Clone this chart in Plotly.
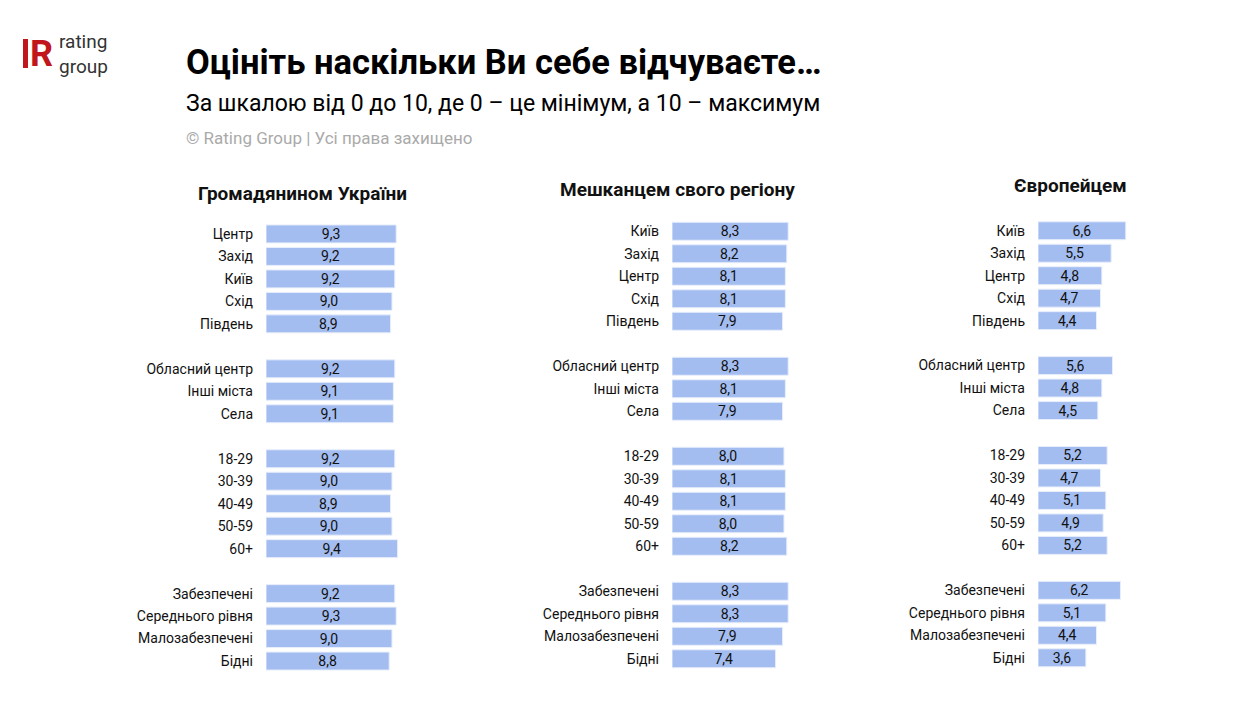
import plotly.graph_objects as go

# categories (empty string = gap between groups)
categories = ["Центр", "Захід", "Київ", "Схід", "Південь", "",
              "Обласний центр", "Інші міста", "Села", "",
              "18-29", "30-39", "40-49", "50-59", "60+", "",
              "Забезпечені", "Середнього рівня", "Малозабезпечені", "Бідні"]
cats_p2 = ["Київ", "Захід", "Центр", "Схід", "Південь", "",
           "Обласний центр", "Інші міста", "Села", "",
           "18-29", "30-39", "40-49", "50-59", "60+", "",
           "Забезпечені", "Середнього рівня", "Малозабезпечені", "Бідні"]
cats_p3 = ["Київ", "Захід", "Центр", "Схід", "Південь", "",
           "Обласний центр", "Інші міста", "Села", "",
           "18-29", "30-39", "40-49", "50-59", "60+", "",
           "Забезпечені", "Середнього рівня", "Малозабезпечені", "Бідні"]

citizen = [9.3, 9.2, 9.2, 9.0, 8.9, None, 9.2, 9.1, 9.1, None,
           9.2, 9.0, 8.9, 9.0, 9.4, None, 9.2, 9.3, 9.0, 8.8]
region = [8.3, 8.2, 8.1, 8.1, 7.9, None, 8.3, 8.1, 7.9, None,
          8.0, 8.1, 8.1, 8.0, 8.2, None, 8.3, 8.3, 7.9, 7.4]
european = [6.6, 5.5, 4.8, 4.7, 4.4, None, 5.6, 4.8, 4.5, None,
            5.2, 4.7, 5.1, 4.9, 5.2, None, 6.2, 5.1, 4.4, 3.6]

panel_titles = ["Громадянином України", "Мешканцем свого регіону", "Європейцем"]

W, H, OFF = 1227, 715, 8  # page has an 8px body margin


def px(x):
    return (x - OFF) / W


def py(y):
    return 1 - (y - OFF) / H


panels = [(categories, citizen), (cats_p2, region), (cats_p3, european)]
x_pix = [(266, 406), (672, 812), (1038, 1171)]
y_pix = [(222.7, 672.3), (220, 670), (219.5, 669)]
title_pos = [(302, 193), (677, 189), (1070, 186)]

BAR = "#a3bdf0"
FONT = "Roboto, sans-serif"

fig = go.Figure()
for i, (cats, vals) in enumerate(panels):
    n = "" if i == 0 else str(i + 1)
    pos = list(range(len(cats)))
    ys = [p for p, v in zip(pos, vals) if v is not None]
    xs = [v for v in vals if v is not None]
    fig.add_trace(go.Bar(
        x=xs, y=ys, orientation="h", xaxis="x" + n, yaxis="y" + n,
        marker=dict(color=BAR, line=dict(color="#e8eefb", width=1)),
        width=0.8,
        text=[f"{v:.1f}".replace(".", ",") for v in xs],
        textposition="inside", insidetextanchor="middle",
        textfont=dict(family=FONT, size=14, color="#111"),
        hoverinfo="skip", showlegend=False,
    ))
    fig.layout["xaxis" + n] = dict(domain=[px(x_pix[i][0]), px(x_pix[i][1])], range=[0, 10],
                                   visible=False, anchor="y" + n)
    fig.layout["yaxis" + n] = dict(domain=[py(y_pix[i][1]), py(y_pix[i][0])], range=[19.5, -0.5],
                                   anchor="x" + n, tickvals=pos, ticktext=cats,
                                   showgrid=False, zeroline=False, showline=False,
                                   ticks="", ticklabelstandoff=12,
                                   tickfont=dict(family=FONT, size=14, color="#111"))
    fig.add_annotation(text="<b>" + panel_titles[i] + "</b>", xref="paper", yref="paper",
                       x=px(title_pos[i][0]), y=py(title_pos[i][1]), xanchor="center",
                       yanchor="middle", showarrow=False,
                       font=dict(family=FONT, size=19, color="#111"))

# header texts
fig.add_annotation(text="<b>Оцініть наскільки Ви себе відчуваєте…</b>", xref="paper", yref="paper",
                   x=px(184), y=py(62), xanchor="left", yanchor="middle", showarrow=False,
                   font=dict(family=FONT, size=34.5, color="#000"))
fig.add_annotation(text="За шкалою від 0 до 10, де 0 – це мінімум, а 10 – максимум",
                   xref="paper", yref="paper", x=px(184), y=py(103),
                   xanchor="left", yanchor="middle", showarrow=False,
                   font=dict(family=FONT, size=23, color="#000"))
fig.add_annotation(text="© Rating Group | Усі права захищено", xref="paper", yref="paper",
                   x=px(184), y=py(138), xanchor="left", yanchor="middle", showarrow=False,
                   font=dict(family=FONT, size=17, color="#aaaaaa"))

# logo
fig.add_shape(type="rect", xref="paper", yref="paper", x0=px(23), x1=px(28),
              y0=py(68), y1=py(39), fillcolor="#c0161c", line_width=0)
fig.add_annotation(text="<b>R</b>", xref="paper", yref="paper", x=px(28), y=py(54),
                   xanchor="left", yanchor="middle", showarrow=False,
                   font=dict(family=FONT, size=36, color="#c0161c"))
fig.add_annotation(text="rating<br>group", xref="paper", yref="paper", x=px(57),
                   y=py(54), xanchor="left", yanchor="middle", align="left", showarrow=False,
                   font=dict(family=FONT, size=19, color="#333"))

fig.update_layout(width=W, height=H, margin=dict(l=0, r=0, t=0, b=0),
                  paper_bgcolor="white", plot_bgcolor="white",
                  uniformtext=dict(minsize=14, mode="show"))
fig.write_html("out.html")
